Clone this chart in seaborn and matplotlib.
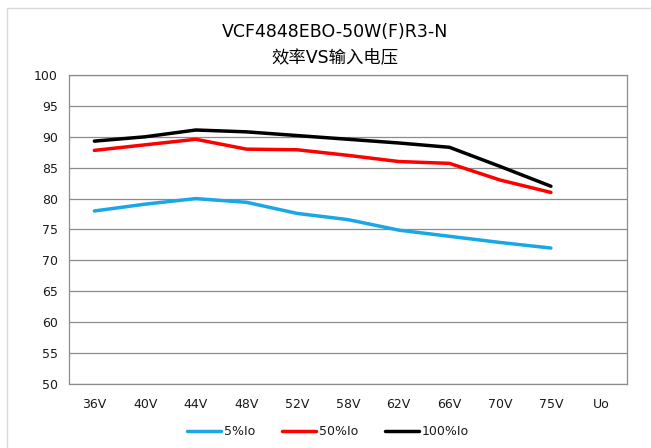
import numpy as np
import pandas as pd
import matplotlib.pyplot as plt
import seaborn as sns
from matplotlib.patches import Rectangle

# Data
voltages = ["36V", "40V", "44V", "48V", "52V", "58V", "62V", "66V", "70V", "75V", "Uo"]
load_5 = [78.0, 79.1, 80.0, 79.4, 77.6, 76.6, 74.9, 73.9, 72.9, 72.0]
load_50 = [87.8, 88.7, 89.6, 88.0, 87.9, 87.0, 86.0, 85.7, 83.0, 81.0]
load_100 = [89.3, 90.0, 91.1, 90.8, 90.2, 89.6, 89.0, 88.3, 85.2, 82.0]
series_names = ["5%Io", "50%Io", "100%Io"]
colors = ["#1aa7e6", "#ff0000", "#000000"]

rows = []
for name, vals in zip(series_names, [load_5, load_50, load_100]):
    for i, v in enumerate(vals):
        rows.append({"pos": i, "eff": v, "load": name})
df = pd.DataFrame(rows)

sns.set_style("white")
plt.rcParams["font.family"] = ["DejaVu Sans", "Noto Sans CJK SC"]

fig = plt.figure(figsize=(6.51, 4.48), dpi=100)
ax = fig.add_axes([69 / 651, 1 - 384 / 448, (627 - 69) / 651, (384 - 75) / 448])

# light frame around the whole chart
fig.patches.append(Rectangle((7 / 651, -0.1), 1.2, 1 - 8 / 448 + 0.1,
                             transform=fig.transFigure, fill=False,
                             edgecolor="#d9d9d9", linewidth=1))

sns.lineplot(data=df, x="pos", y="eff", hue="load", hue_order=series_names,
             palette=colors, linewidth=2.5, ax=ax)

ax.set_xlim(-0.5, len(voltages) - 0.5)
ax.set_ylim(50, 100)
ax.set_xticks(np.arange(len(voltages)))
ax.set_xticklabels(voltages)
ax.set_yticks(np.arange(50, 101, 5))
ax.tick_params(axis="both", length=0, labelsize=9, colors="#1a1a1a")
ax.tick_params(axis="x", pad=10)
ax.tick_params(axis="y", pad=8)
ax.grid(axis="y", color="#8c8c8c", linewidth=0.9)
ax.set_axisbelow(True)
for s in ax.spines.values():
    s.set_color("#8c8c8c")
    s.set_linewidth(0.9)
ax.set_xlabel("")
ax.set_ylabel("")

fig.text(335 / 651, 1 - 32 / 448, "VCF4848EBO-50W(F)R3-N", ha="center", va="center",
         fontsize=12.5, color="black")
fig.text(335 / 651, 1 - 57 / 448, "效率VS输入电压", ha="center", va="center",
         fontsize=12.5, color="black")

leg = ax.legend(loc="center", bbox_to_anchor=((328 - 69) / 558, -0.155), ncol=3, frameon=False,
                fontsize=9, handlelength=2.7, handletextpad=0.2, columnspacing=2.2)
for t in leg.get_texts():
    t.set_color("#1a1a1a")

plt.savefig("out.png", dpi=100)
